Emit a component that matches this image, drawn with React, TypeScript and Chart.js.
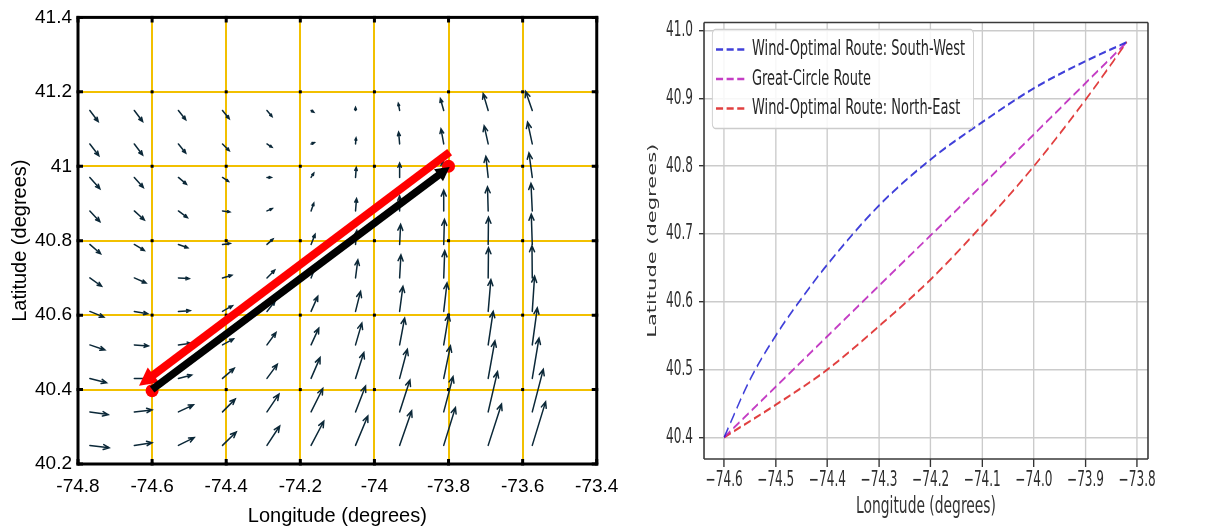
import React, { useEffect, useRef } from 'react';
import { Chart, registerables } from 'chart.js';

Chart.register(...registerables);

// ---------------- Left panel data ----------------
const leftLonTicks = [-74.8, -74.6, -74.4, -74.2, -74.0, -73.8, -73.6, -73.4];
const leftLatTicks = [40.2, 40.4, 40.6, 40.8, 41.0, 41.2, 41.4];

const quiverLon = [-74.768, -74.648, -74.529, -74.41, -74.29, -74.171, -74.051, -73.932, -73.813, -73.693, -73.574];
const quiverLat = [41.15, 41.06, 40.97, 40.88, 40.79, 40.7, 40.61, 40.52, 40.43, 40.34, 40.25];

// wind components (east, north), one row per latitude above
const windU = [
  [8.3, 8.3, 7.3, 6.7, 5, 2.7, 0, -1.3, -3.3, -5, -6.7],
  [9, 8.3, 7.3, 6.7, 5, 3.3, 0.5, -1, -2.7, -4, -4.7],
  [10, 9, 8, 6, 4.3, 2.7, 0.7, 0, -1, -2.3, -3.3],
  [10, 10, 9, 7.3, 5.3, 2.7, 1, 0, 0, -0.7, -1.3],
  [10.7, 10, 9.3, 7.7, 6, 4, 1.3, 1, 0.7, 0.3, -1],
  [11.7, 11.7, 10.7, 9.3, 7.7, 4.7, 2.3, 1.3, 1, 0.3, -0.3],
  [14, 13.3, 11.7, 10, 8, 6.7, 5, 3.3, 3.3, 2.7, 2.3],
  [15, 14, 12.7, 11, 9, 7.7, 6.3, 5, 5, 5, 5],
  [16.7, 15, 13.3, 11.7, 10.3, 9, 8.3, 7.7, 6.7, 6.7, 6.7],
  [18.3, 17.7, 15, 12.7, 12, 11.7, 10, 10.3, 9.3, 9.3, 11],
  [19.3, 17.7, 15.7, 13.7, 12.7, 12.7, 12.3, 12, 11.7, 13.3, 13.3],
];
const windV = [
  [-11, -11, -9.3, -8.3, -6, -1.7, 3, 7, 11.7, 16.7, 19],
  [-11.7, -11, -9, -6.7, -3.3, 1.3, 6, 11.7, 15, 18, 21.7],
  [-11.3, -10, -6.7, -4, 0, 4.3, 10, 14.3, 17, 21, 24.3],
  [-10.7, -9, -6.7, -1, 2.3, 7.7, 12.3, 15, 20.7, 24, 27.3],
  [-9.3, -6, -3.3, 1, 5.3, 10, 14, 20, 25, 27, 30],
  [-8.3, -5, -0.7, 2.7, 7.7, 12, 18, 23, 27, 30, 32],
  [-5.7, -2.3, 0.7, 5.7, 10, 15, 20, 25, 28.3, 31.7, 35],
  [-5, -1, 1.7, 6, 12.3, 16.7, 21.7, 26.7, 30, 33.3, 36.7],
  [-4.3, 0, 3.3, 10, 14, 20.7, 25.7, 29, 32.3, 37.3, 40],
  [-2.7, 2, 7, 12.7, 17.7, 23.3, 25.7, 31.7, 35, 40, 42.3],
  [-2.3, 2.7, 7.7, 13.3, 19.3, 24, 29.3, 34.3, 37.7, 41, 43.3],
];
const QUIVER_SCALE = 0.0027; // degrees per wind unit

const redRouteLon = [-73.797, -74.618];
const redRouteLat = [41.038, 40.423];
const blackRouteLon = [-74.6, -73.812];
const blackRouteLat = [40.4, 40.987];
const endpointLon = [-73.8, -74.6];
const endpointLat = [41.0, 40.397];

// ---------------- Right panel data ----------------
const rightLonTicks = [-74.6, -74.5, -74.4, -74.3, -74.2, -74.1, -74.0, -73.9, -73.8];
const rightLatTicks = [40.4, 40.5, 40.6, 40.7, 40.8, 40.9, 41.0];

const swLon = [-74.6, -74.55, -74.5, -74.45, -74.4, -74.3, -74.2, -74.1, -74.0, -73.9, -73.82];
const swLat = [40.4, 40.485, 40.55, 40.605, 40.655, 40.742, 40.81, 40.865, 40.915, 40.955, 40.983];
const gcLon = [-74.6, -74.4, -74.2, -74.0, -73.82];
const gcLat = [40.4, 40.549, 40.698, 40.847, 40.983];
const neLon = [-74.6, -74.5, -74.4, -74.3, -74.2, -74.1, -74.0, -73.9, -73.82];
const neLat = [40.4, 40.448, 40.5, 40.564, 40.633, 40.713, 40.8, 40.898, 40.983];

const seriesNames = [
  'Wind-Optimal Route: South-West',
  'Great-Circle Route',
  'Wind-Optimal Route: North-East',
];

// ---------------- helpers ----------------
const pts = (xs: number[], ys: number[]) => xs.map((x, i) => ({ x, y: ys[i] }));

const SX = 0.59; // horizontal squeeze of the right panel
const LEG_DX = 12.8;

const leftPlugin = {
  id: 'leftDecor',
  beforeDatasetsDraw(chart: any) {
    const { ctx, scales } = chart;
    const xs = scales.x;
    const ys = scales.y;
    ctx.save();
    ctx.fillStyle = '#000';
    for (const lon of leftLonTicks) {
      for (const lat of leftLatTicks) {
        const px = xs.getPixelForValue(lon);
        const py = ys.getPixelForValue(lat);
        ctx.fillRect(px - 1.5, py - 1.5, 3, 3);
      }
    }
    ctx.strokeStyle = '#0b2838';
    ctx.lineWidth = 1.5;
    ctx.lineCap = 'round';
    for (let r = 0; r < quiverLat.length; r++) {
      for (let c = 0; c < quiverLon.length; c++) {
        const lon = quiverLon[c];
        const lat = quiverLat[r];
        const x0 = xs.getPixelForValue(lon);
        const y0 = ys.getPixelForValue(lat);
        const x1 = xs.getPixelForValue(lon + windU[r][c] * QUIVER_SCALE);
        const y1 = ys.getPixelForValue(lat + windV[r][c] * QUIVER_SCALE);
        const dx = x1 - x0;
        const dy = y1 - y0;
        const len = Math.hypot(dx, dy);
        if (len < 0.5) continue;
        const ang = Math.atan2(dy, dx);
        const h = Math.min(6.5, Math.max(2.4, len * 0.32));
        ctx.beginPath();
        ctx.moveTo(x0, y0);
        ctx.lineTo(x1, y1);
        ctx.moveTo(x1 - h * Math.cos(ang - 0.4), y1 - h * Math.sin(ang - 0.4));
        ctx.lineTo(x1, y1);
        ctx.lineTo(x1 - h * Math.cos(ang + 0.4), y1 - h * Math.sin(ang + 0.4));
        ctx.stroke();
      }
    }
    ctx.restore();
  },
  afterDatasetDraw(chart: any, args: any) {
    const ds = chart.data.datasets[args.index] as any;
    if (!ds.head) return;
    const p = args.meta.data;
    const a = p[p.length - 2];
    const b = p[p.length - 1];
    const ang = Math.atan2(b.y - a.y, b.x - a.x);
    const { len, half, ahead } = ds.head;
    const tx = b.x + ahead * Math.cos(ang);
    const ty = b.y + ahead * Math.sin(ang);
    const bx = tx - len * Math.cos(ang);
    const by = ty - len * Math.sin(ang);
    const ctx = chart.ctx;
    ctx.save();
    ctx.fillStyle = ds.borderColor;
    ctx.beginPath();
    ctx.moveTo(tx, ty);
    ctx.lineTo(bx + half * Math.sin(ang), by - half * Math.cos(ang));
    ctx.lineTo(bx - half * Math.sin(ang), by + half * Math.cos(ang));
    ctx.closePath();
    ctx.fill();
    ctx.restore();
  },
  afterDraw(chart: any) {
    const { ctx, chartArea, scales } = chart;
    const { left, right, top, bottom } = chartArea;
    ctx.save();
    ctx.strokeStyle = '#000';
    ctx.lineWidth = 3;
    ctx.beginPath();
    for (const lon of leftLonTicks) {
      const px = scales.x.getPixelForValue(lon);
      ctx.moveTo(px, top);
      ctx.lineTo(px, top + 5);
      ctx.moveTo(px, bottom);
      ctx.lineTo(px, bottom - 5);
    }
    for (const lat of leftLatTicks) {
      const py = scales.y.getPixelForValue(lat);
      ctx.moveTo(left, py);
      ctx.lineTo(left + 5, py);
      ctx.moveTo(right, py);
      ctx.lineTo(right - 5, py);
    }
    ctx.stroke();
    ctx.strokeRect(left, top, right - left, bottom - top);
    ctx.restore();
  },
};

const rightPlugin = {
  id: 'rightDecor',
  beforeLayout(chart: any) {
    const lg = chart.legend;
    if (lg && !lg.__zfix) {
      lg._layers = () => [{ z: 1, draw: (ca: any) => lg.draw(ca) }];
      lg.__zfix = true;
    }
  },
  afterLayout(chart: any) {
    const lg = chart.legend;
    if (lg) lg.left += LEG_DX;
  },
  beforeDraw(chart: any) {
    chart.ctx.save();
    chart.ctx.scale(SX, 1);
  },
  afterDatasetsDraw(chart: any) {
    const { ctx, chartArea } = chart;
    const { left, right, top, bottom } = chartArea;
    ctx.save();
    ctx.strokeStyle = '#3a3a3a';
    ctx.lineWidth = 1.6;
    ctx.beginPath();
    ctx.moveTo(left, top);
    ctx.lineTo(right, top);
    ctx.moveTo(left, bottom);
    ctx.lineTo(right, bottom);
    ctx.stroke();
    ctx.lineWidth = 2.7;
    ctx.beginPath();
    ctx.moveTo(left, top);
    ctx.lineTo(left, bottom);
    ctx.moveTo(right, top);
    ctx.lineTo(right, bottom);
    ctx.stroke();
    const lg = chart.legend;
    const hb = lg && lg.legendHitBoxes;
    if (hb && hb.length) {
      const first = hb[0];
      const last = hb[hb.length - 1];
      const l = Math.min(...hb.map((h: any) => h.left)) + LEG_DX - 19;
      const r = Math.max(...hb.map((h: any) => h.left + h.width)) + LEG_DX + 1.5;
      const t = first.top + first.height / 2 - 20;
      const b = last.top + last.height / 2 + 20;
      ctx.beginPath();
      ctx.roundRect(l, t, r - l, b - t, 5);
      ctx.fillStyle = 'rgba(255,255,255,0.85)';
      ctx.fill();
      ctx.strokeStyle = '#cccccc';
      ctx.lineWidth = 1.5;
      ctx.stroke();
    }
    ctx.restore();
  },
  afterDraw(chart: any) {
    chart.ctx.restore();
  },
};

const leftFont = "'Liberation Sans', Arial, sans-serif";
const rightFont = "'DejaVu Sans', sans-serif";

function leftConfig(): any {
  return {
    type: 'line',
    data: {
      datasets: [
        {
          label: 'black',
          data: pts(blackRouteLon, blackRouteLat),
          borderColor: '#000000',
          borderWidth: 7.5,
          borderCapStyle: 'butt',
          pointRadius: 0,
          order: 0,
          head: { len: 14, half: 7.5, ahead: 7 },
        },
        {
          label: 'red',
          data: pts(redRouteLon, redRouteLat),
          borderColor: '#ff0000',
          borderWidth: 8,
          borderCapStyle: 'butt',
          pointRadius: 0,
          order: 1,
          head: { len: 18, half: 9.5, ahead: 8 },
        },
        {
          label: 'ends',
          data: pts(endpointLon, endpointLat),
          showLine: false,
          pointRadius: 6.5,
          pointBackgroundColor: '#ff0000',
          pointBorderWidth: 0,
          borderColor: '#ff0000',
          order: 2,
        },
      ],
    },
    options: {
      animation: false,
      responsive: false,
      devicePixelRatio: 1,
      events: [],
      layout: { padding: { left: 0, top: 14, right: 33, bottom: 0 } },
      plugins: { legend: { display: false }, tooltip: { enabled: false } },
      scales: {
        x: {
          type: 'linear',
          min: -74.8,
          max: -73.4,
          afterBuildTicks: (s: any) => {
            s.ticks = leftLonTicks.map((v) => ({ value: v }));
          },
          afterFit: (s: any) => {
            s.height = 65;
          },
          grid: { color: '#f2c000', lineWidth: 2, drawTicks: false },
          border: { display: false },
          ticks: {
            autoSkip: false,
            maxRotation: 0,
            padding: 11.6,
            color: '#000',
            font: { family: leftFont, size: 19 },
            callback: (v: any) => String(Math.round(Number(v) * 10) / 10),
          },
          title: {
            display: true,
            text: 'Longitude (degrees)',
            color: '#000',
            font: { family: leftFont, size: 20 },
            padding: { top: 0, bottom: 1 },
          },
        },
        y: {
          type: 'linear',
          min: 40.2,
          max: 41.4,
          afterBuildTicks: (s: any) => {
            s.ticks = leftLatTicks.map((v) => ({ value: v }));
          },
          afterFit: (s: any) => {
            s.width = 78;
          },
          grid: { color: '#f2c000', lineWidth: 2, drawTicks: false },
          border: { display: false },
          ticks: {
            autoSkip: false,
            padding: 6,
            color: '#000',
            font: { family: leftFont, size: 19 },
            callback: (v: any) => String(Math.round(Number(v) * 10) / 10),
          },
          title: {
            display: true,
            text: 'Latitude (degrees)',
            color: '#000',
            font: { family: leftFont, size: 20 },
            padding: { top: 8, bottom: 0 },
          },
        },
      },
    },
    plugins: [leftPlugin],
  };
}

function rightConfig(): any {
  const dash = [12, 6];
  return {
    type: 'line',
    data: {
      datasets: [
        {
          label: seriesNames[0],
          data: pts(swLon, swLat),
          borderColor: 'rgba(30,30,210,0.85)',
          backgroundColor: 'rgba(0,0,0,0)',
          borderWidth: 2.3,
          borderDash: dash,
          pointRadius: 0,
          cubicInterpolationMode: 'monotone',
        },
        {
          label: seriesNames[1],
          data: pts(gcLon, gcLat),
          borderColor: 'rgba(190,40,190,0.9)',
          backgroundColor: 'rgba(0,0,0,0)',
          borderWidth: 2.3,
          borderDash: dash,
          pointRadius: 0,
          tension: 0,
        },
        {
          label: seriesNames[2],
          data: pts(neLon, neLat),
          borderColor: 'rgba(220,30,30,0.85)',
          backgroundColor: 'rgba(0,0,0,0)',
          borderWidth: 2.3,
          borderDash: dash,
          pointRadius: 0,
          cubicInterpolationMode: 'monotone',
        },
      ],
    },
    options: {
      animation: false,
      responsive: false,
      devicePixelRatio: 1,
      events: [],
      layout: { padding: { left: 0, top: 18, right: 98.1, bottom: 0 } },
      plugins: {
        tooltip: { enabled: false },
        legend: {
          position: 'chartArea',
          align: 'start',
          title: { display: true, text: '', font: { size: 1 }, padding: { top: 29.8, bottom: 0 } },
          labels: {
            usePointStyle: true,
            pointStyle: 'line',
            pointStyleWidth: 50,
            padding: 7.5,
            color: '#262626',
            font: { family: rightFont, size: 22 },
            generateLabels: (chart: any) => {
              const items = (Chart.defaults as any).plugins.legend.labels.generateLabels(chart);
              return items.map((it: any) => {
                const ds = chart.data.datasets[it.datasetIndex];
                return {
                  ...it,
                  lineDash: ds.borderDash,
                  lineWidth: 2.6,
                  strokeStyle: ds.borderColor,
                  fillStyle: 'rgba(0,0,0,0)',
                };
              });
            },
          },
        },
      },
      scales: {
        x: {
          type: 'linear',
          min: -74.639,
          max: -73.779,
          afterBuildTicks: (s: any) => {
            s.ticks = rightLonTicks.map((v) => ({ value: v }));
          },
          afterFit: (s: any) => {
            s.height = 70;
          },
          grid: { color: '#cbcbcb', lineWidth: 2.3, tickColor: '#333', tickLength: 8, tickWidth: 2.3 },
          border: { display: false },
          ticks: {
            autoSkip: false,
            maxRotation: 0,
            padding: 1.2,
            color: '#2e2e2e',
            font: { family: rightFont, size: 20.5 },
            callback: (v: any) => {
              const n = Number(v);
              return (n < 0 ? '\u2212' : '') + Math.abs(n).toFixed(1);
            },
          },
          title: {
            display: true,
            text: 'Longitude (degrees)',
            color: '#333',
            font: { family: rightFont, size: 23.5 },
            padding: { top: 0, bottom: 7.9 },
          },
        },
        y: {
          type: 'linear',
          min: 40.368,
          max: 41.012,
          afterBuildTicks: (s: any) => {
            s.ticks = rightLatTicks.map((v) => ({ value: v }));
          },
          afterFit: (s: any) => {
            s.width = 142.4;
          },
          grid: { color: '#cbcbcb', lineWidth: 1.4, tickColor: '#333', tickLength: 8.5, tickWidth: 1.4 },
          border: { display: false },
          ticks: {
            autoSkip: false,
            padding: 10.2,
            color: '#2e2e2e',
            font: { family: rightFont, size: 20.5 },
            callback: (v: any) => Number(v).toFixed(1),
          },
          title: {
            display: true,
            text: 'Latitude (degrees)',
            color: '#333',
            font: { family: rightFont, size: 21 },
            padding: { top: 42.5, bottom: 0 },
          },
        },
      },
    },
    plugins: [rightPlugin],
  };
}

export default function App() {
  const leftRef = useRef<HTMLCanvasElement>(null);
  const rightRef = useRef<HTMLCanvasElement>(null);

  useEffect(() => {
    const c1 = new Chart(leftRef.current as HTMLCanvasElement, leftConfig());
    const c2 = new Chart(rightRef.current as HTMLCanvasElement, rightConfig());
    return () => {
      c1.destroy();
      c2.destroy();
    };
  }, []);

  return (
    <div
      style={{
        position: 'fixed',
        left: 0,
        top: 0,
        width: 1206,
        height: 529,
        overflow: 'hidden',
        background: '#ffffff',
      }}
    >
      <div style={{ position: 'absolute', left: 0, top: 0, width: 630, height: 529 }}>
        <canvas ref={leftRef} width={630} height={529} style={{ display: 'block', width: 630, height: 529 }} />
      </div>
      <div style={{ position: 'absolute', left: 620, top: 0, width: 993, height: 529 }}>
        <canvas ref={rightRef} width={993} height={529} style={{ display: 'block', width: 993, height: 529 }} />
      </div>
    </div>
  );
}
